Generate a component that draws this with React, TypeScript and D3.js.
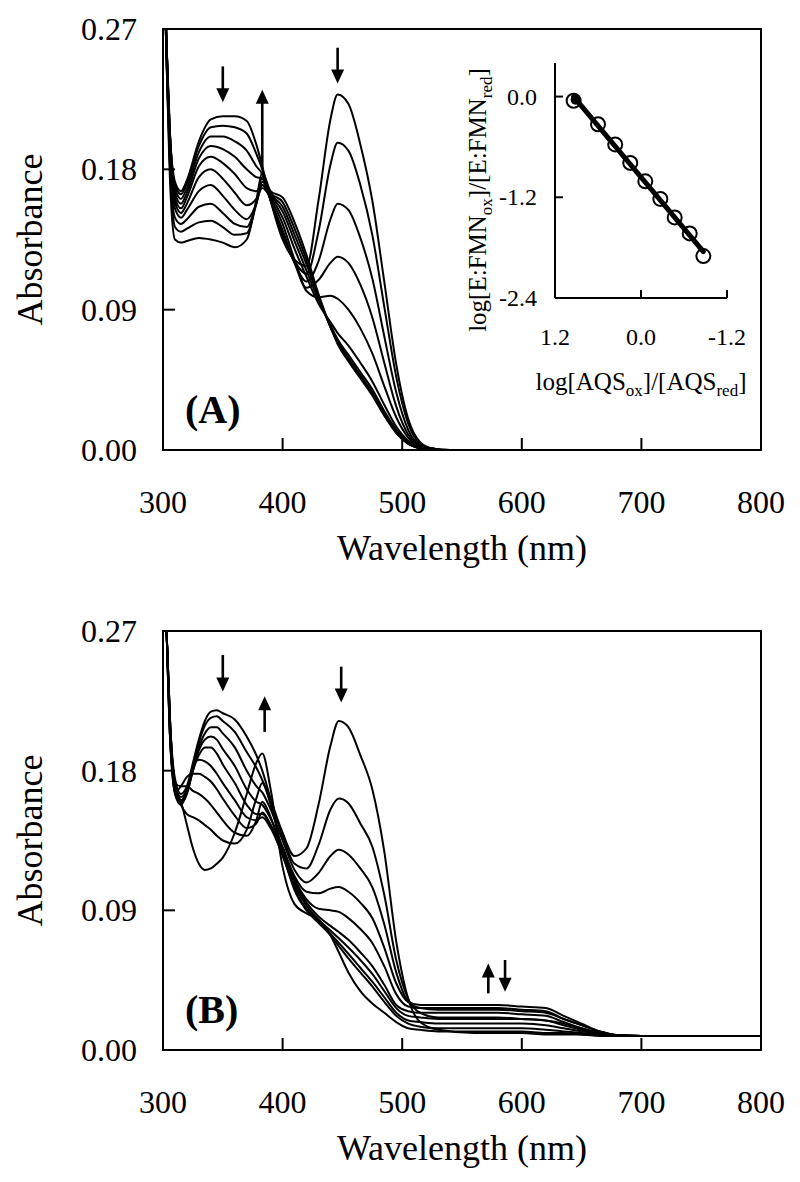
import React from 'react';
import * as d3 from 'd3';

// ---------- data ----------
const xTicks = [300, 400, 500, 600, 700, 800];
const yTicks = [0, 0.09, 0.18, 0.27];
const yTickLabels = ['0.00', '0.09', '0.18', '0.27'];

// Panel A spectra
const wlA = [300, 303, 306, 310, 315, 320, 330, 340, 350, 360, 370, 378, 383, 390, 400, 410, 420, 430, 440, 446, 455, 465, 475, 485, 495, 505, 515, 525, 540, 600, 700, 800];
const specA0 = [0.34, 0.26, 0.20, 0.172, 0.166, 0.173, 0.198, 0.212, 0.214, 0.214, 0.211, 0.196, 0.182, 0.160, 0.135, 0.122, 0.118, 0.160, 0.212, 0.228, 0.222, 0.196, 0.160, 0.108, 0.055, 0.020, 0.005, 0.001, 0, 0, 0, 0];
const specA1 = [0.34, 0.26, 0.20, 0.170, 0.164, 0.171, 0.195, 0.207, 0.208, 0.207, 0.203, 0.190, 0.180, 0.160, 0.137, 0.121, 0.113, 0.140, 0.183, 0.197, 0.192, 0.170, 0.138, 0.092, 0.047, 0.017, 0.004, 0.001, 0, 0, 0, 0];
const specA2 = [0.34, 0.26, 0.20, 0.168, 0.161, 0.168, 0.191, 0.201, 0.201, 0.198, 0.192, 0.182, 0.177, 0.160, 0.139, 0.120, 0.108, 0.121, 0.148, 0.158, 0.154, 0.136, 0.110, 0.073, 0.037, 0.013, 0.003, 0.001, 0, 0, 0, 0];
const specA3 = [0.34, 0.26, 0.20, 0.165, 0.158, 0.165, 0.187, 0.195, 0.193, 0.188, 0.180, 0.175, 0.174, 0.160, 0.141, 0.120, 0.104, 0.109, 0.120, 0.124, 0.120, 0.106, 0.085, 0.056, 0.028, 0.010, 0.003, 0.001, 0, 0, 0, 0];
const specA4 = [0.34, 0.26, 0.19, 0.162, 0.155, 0.162, 0.182, 0.188, 0.184, 0.177, 0.168, 0.166, 0.170, 0.161, 0.145, 0.122, 0.102, 0.098, 0.099, 0.097, 0.090, 0.078, 0.062, 0.041, 0.021, 0.008, 0.002, 0, 0, 0, 0, 0];
const specA5 = [0.34, 0.26, 0.19, 0.159, 0.152, 0.158, 0.175, 0.180, 0.174, 0.165, 0.157, 0.161, 0.168, 0.162, 0.149, 0.129, 0.111, 0.094, 0.082, 0.075, 0.067, 0.056, 0.044, 0.029, 0.015, 0.006, 0.002, 0, 0, 0, 0, 0];
const specA6 = [0.34, 0.25, 0.19, 0.155, 0.149, 0.154, 0.166, 0.170, 0.163, 0.154, 0.148, 0.158, 0.170, 0.163, 0.153, 0.134, 0.115, 0.096, 0.080, 0.071, 0.061, 0.050, 0.039, 0.025, 0.013, 0.005, 0.001, 0, 0, 0, 0, 0];
const specA7 = [0.34, 0.25, 0.18, 0.149, 0.145, 0.148, 0.156, 0.158, 0.152, 0.145, 0.143, 0.158, 0.172, 0.164, 0.156, 0.138, 0.119, 0.098, 0.079, 0.070, 0.059, 0.048, 0.037, 0.024, 0.012, 0.004, 0.001, 0, 0, 0, 0, 0];
const specA8 = [0.34, 0.25, 0.18, 0.143, 0.140, 0.142, 0.146, 0.147, 0.143, 0.138, 0.139, 0.158, 0.175, 0.165, 0.159, 0.142, 0.122, 0.099, 0.079, 0.069, 0.058, 0.047, 0.036, 0.023, 0.011, 0.004, 0.001, 0, 0, 0, 0, 0];
const specA9 = [0.34, 0.25, 0.17, 0.135, 0.133, 0.134, 0.136, 0.135, 0.133, 0.130, 0.135, 0.160, 0.178, 0.166, 0.162, 0.146, 0.125, 0.100, 0.079, 0.068, 0.057, 0.046, 0.035, 0.022, 0.011, 0.004, 0.001, 0, 0, 0, 0, 0];
const spectraA = [specA0, specA1, specA2, specA3, specA4, specA5, specA6, specA7, specA8, specA9];

// Panel B spectra
const wlB = [300, 303, 306, 310, 315, 320, 325, 330, 335, 340, 345, 350, 360, 370, 378, 383, 390, 400, 410, 420, 430, 440, 447, 455, 465, 475, 485, 495, 505, 515, 530, 560, 580, 600, 620, 635, 650, 665, 680, 700, 800];
const specB0 = [0.34, 0.27, 0.21, 0.175, 0.165, 0.170, 0.185, 0.200, 0.212, 0.218, 0.219, 0.217, 0.213, 0.202, 0.190, 0.180, 0.162, 0.140, 0.125, 0.130, 0.158, 0.196, 0.212, 0.208, 0.190, 0.168, 0.128, 0.070, 0.033, 0.018, 0.013, 0.011, 0.011, 0.011, 0.010, 0.010, 0.010, 0.009, 0.009, 0.009, 0.009];
const specB1 = [0.34, 0.27, 0.21, 0.172, 0.163, 0.168, 0.183, 0.198, 0.209, 0.214, 0.215, 0.212, 0.205, 0.192, 0.182, 0.174, 0.160, 0.138, 0.120, 0.117, 0.132, 0.155, 0.162, 0.159, 0.146, 0.131, 0.100, 0.058, 0.033, 0.024, 0.021, 0.021, 0.021, 0.020, 0.019, 0.017, 0.014, 0.011, 0.0095, 0.009, 0.009];
const specB2 = [0.34, 0.27, 0.21, 0.170, 0.161, 0.167, 0.181, 0.195, 0.204, 0.208, 0.208, 0.204, 0.195, 0.180, 0.170, 0.166, 0.155, 0.135, 0.116, 0.108, 0.114, 0.125, 0.129, 0.126, 0.117, 0.105, 0.081, 0.050, 0.031, 0.027, 0.026, 0.026, 0.026, 0.025, 0.024, 0.020, 0.016, 0.012, 0.0095, 0.009, 0.009];
const specB3 = [0.34, 0.27, 0.21, 0.168, 0.160, 0.166, 0.180, 0.193, 0.200, 0.202, 0.200, 0.194, 0.183, 0.168, 0.160, 0.158, 0.149, 0.131, 0.112, 0.102, 0.101, 0.104, 0.105, 0.102, 0.095, 0.085, 0.066, 0.043, 0.031, 0.029, 0.029, 0.029, 0.029, 0.028, 0.027, 0.022, 0.017, 0.012, 0.0095, 0.009, 0.009];
const specB4 = [0.34, 0.27, 0.205, 0.166, 0.159, 0.165, 0.180, 0.190, 0.195, 0.195, 0.191, 0.184, 0.172, 0.158, 0.152, 0.152, 0.145, 0.128, 0.110, 0.097, 0.091, 0.090, 0.089, 0.085, 0.078, 0.069, 0.054, 0.036, 0.028, 0.027, 0.027, 0.027, 0.027, 0.026, 0.025, 0.020, 0.016, 0.012, 0.0095, 0.009, 0.009];
const specB5 = [0.34, 0.27, 0.205, 0.165, 0.158, 0.166, 0.182, 0.187, 0.186, 0.183, 0.178, 0.172, 0.161, 0.150, 0.148, 0.150, 0.143, 0.126, 0.108, 0.095, 0.086, 0.080, 0.076, 0.071, 0.063, 0.054, 0.042, 0.029, 0.025, 0.024, 0.024, 0.024, 0.024, 0.023, 0.022, 0.018, 0.014, 0.011, 0.0095, 0.009, 0.009];
const specB6 = [0.34, 0.27, 0.20, 0.166, 0.170, 0.176, 0.178, 0.178, 0.176, 0.173, 0.168, 0.162, 0.151, 0.143, 0.146, 0.153, 0.145, 0.125, 0.106, 0.093, 0.084, 0.077, 0.072, 0.066, 0.058, 0.049, 0.038, 0.027, 0.022, 0.021, 0.020, 0.020, 0.020, 0.020, 0.019, 0.016, 0.013, 0.011, 0.0095, 0.009, 0.009];
const specB7 = [0.34, 0.27, 0.20, 0.172, 0.170, 0.170, 0.167, 0.165, 0.162, 0.158, 0.153, 0.148, 0.140, 0.138, 0.148, 0.160, 0.150, 0.126, 0.104, 0.091, 0.083, 0.075, 0.069, 0.062, 0.053, 0.044, 0.034, 0.024, 0.019, 0.018, 0.017, 0.017, 0.017, 0.017, 0.016, 0.014, 0.012, 0.0105, 0.0095, 0.009, 0.009];
const specB8 = [0.34, 0.27, 0.20, 0.170, 0.158, 0.152, 0.150, 0.148, 0.145, 0.142, 0.138, 0.135, 0.133, 0.142, 0.162, 0.172, 0.158, 0.128, 0.103, 0.090, 0.082, 0.074, 0.067, 0.059, 0.050, 0.041, 0.031, 0.022, 0.017, 0.015, 0.014, 0.014, 0.014, 0.014, 0.013, 0.012, 0.011, 0.010, 0.009, 0.009, 0.009];
const specB9 = [0.34, 0.27, 0.20, 0.168, 0.160, 0.145, 0.130, 0.120, 0.116, 0.117, 0.120, 0.124, 0.140, 0.165, 0.185, 0.191, 0.168, 0.118, 0.094, 0.088, 0.084, 0.074, 0.063, 0.050, 0.038, 0.030, 0.024, 0.018, 0.014, 0.013, 0.012, 0.012, 0.012, 0.012, 0.011, 0.011, 0.010, 0.0095, 0.009, 0.009, 0.009];
const spectraB = [specB0, specB1, specB2, specB3, specB4, specB5, specB6, specB7, specB8, specB9];

// arrows: wavelength, tail absorbance, tip absorbance
const arrowsA = [
  { wl: 350, tail: 0.246, tip: 0.223 },
  { wl: 383, tail: 0.180, tip: 0.231 },
  { wl: 446, tail: 0.258, tip: 0.235 },
];
const arrowsB = [
  { wl: 350, tail: 0.2545, tip: 0.231 },
  { wl: 385, tail: 0.205, tip: 0.228 },
  { wl: 449, tail: 0.247, tip: 0.224 },
  { wl: 572, tail: 0.0365, tip: 0.0558 },
  { wl: 586, tail: 0.058, tip: 0.0375 },
];

// inset (Nernst plot)
const insetX = [0.94, 0.60, 0.36, 0.15, -0.06, -0.27, -0.47, -0.68, -0.87];
const insetY = [-0.05, -0.33, -0.57, -0.79, -1.01, -1.22, -1.44, -1.63, -1.90];
const insetXTicks = [1.2, 0.0, -1.2];
const insetYTicks = [0.0, -1.2, -2.4];

// ---------- layout ----------
const FONT = '"Liberation Serif", "Times New Roman", Times, serif';
const LEFT = 163;
const RIGHT = 761;

type Arrow = { wl: number; tail: number; tip: number };

function ArrowMark({ x, yTail, yTip }: { x: number; yTail: number; yTip: number }) {
  const dir = Math.sign(yTip - yTail);
  const h = 14;
  const w = 6.5;
  const base = yTip - dir * h;
  return (
    <g>
      <line x1={x} x2={x} y1={yTail} y2={base + dir * 1} stroke="#000" strokeWidth={2.6} />
      <polygon points={`${x},${yTip} ${x - w},${base} ${x + w},${base}`} fill="#000" />
    </g>
  );
}

function Panel({ top, bottom, wl, spectra, arrows, tag, clipId }: {
  top: number; bottom: number; wl: number[]; spectra: number[][]; arrows: Arrow[]; tag: string; clipId: string;
}) {
  const x = d3.scaleLinear().domain([300, 800]).range([LEFT, RIGHT]);
  const y = d3.scaleLinear().domain([0, 0.27]).range([bottom, top]);
  const line = d3.line<number>()
    .x((_, i) => x(wl[i]))
    .y((d) => y(d))
    .curve(d3.curveMonotoneX);
  const midY = (top + bottom) / 2;
  return (
    <g>
      <defs>
        <clipPath id={clipId}>
          <rect x={LEFT} y={top} width={RIGHT - LEFT} height={bottom - top} />
        </clipPath>
      </defs>
      <g clipPath={`url(#${clipId})`}>
        {spectra.map((s, i) => (
          <path key={i} d={line(s) || ''} fill="none" stroke="#000" strokeWidth={2} strokeLinejoin="round" />
        ))}
      </g>
      <rect x={LEFT} y={top} width={RIGHT - LEFT} height={bottom - top} fill="none" stroke="#000" strokeWidth={2} />
      {yTicks.map((t, i) => (
        <g key={'yt' + i}>
          <line x1={LEFT} x2={LEFT + 12} y1={y(t)} y2={y(t)} stroke="#000" strokeWidth={2} />
          <text x={137} y={y(t) + 11} textAnchor="end" fontSize={32} fontFamily={FONT}>{yTickLabels[i]}</text>
        </g>
      ))}
      {xTicks.map((t, i) => (
        <g key={'xt' + i}>
          <line x1={x(t)} x2={x(t)} y1={bottom} y2={bottom - 12} stroke="#000" strokeWidth={2} />
          <text x={x(t)} y={bottom + 63} textAnchor="middle" fontSize={32} fontFamily={FONT}>{t}</text>
        </g>
      ))}
      <text x={(LEFT + RIGHT) / 2} y={bottom + 110} textAnchor="middle" fontSize={36} fontFamily={FONT}>Wavelength (nm)</text>
      <text transform={`translate(42, ${midY}) rotate(-90)`} textAnchor="middle" fontSize={36} fontFamily={FONT}>Absorbance</text>
      {arrows.map((a, i) => (
        <ArrowMark key={'ar' + i} x={x(a.wl)} yTail={y(a.tail)} yTip={y(a.tip)} />
      ))}
      <text x={185} y={bottom - 27} fontSize={40} fontWeight="bold" fontFamily={FONT}>{tag}</text>
    </g>
  );
}

function Inset() {
  const x = d3.scaleLinear().domain([1.2, -1.2]).range([555, 727]);
  const y = d3.scaleLinear().domain([-2.4, 0.4]).range([298, 63]);
  const mx = d3.mean(insetX) as number;
  const my = d3.mean(insetY) as number;
  const sxy = d3.sum(insetX.map((v, i) => (v - mx) * (insetY[i] - my)));
  const sxx = d3.sum(insetX.map((v) => (v - mx) * (v - mx)));
  const slope = sxy / sxx;
  const icpt = my - slope * mx;
  const x0 = d3.max(insetX) as number;
  const x1 = d3.min(insetX) as number;
  return (
    <g fontFamily={FONT}>
      <line x1={x(1.2)} x2={x(1.2)} y1={y(0.4)} y2={y(-2.4)} stroke="#000" strokeWidth={2} />
      <line x1={x(1.2)} x2={x(-1.2)} y1={y(-2.4)} y2={y(-2.4)} stroke="#000" strokeWidth={2} />
      {insetYTicks.map((t, i) => (
        <g key={'iy' + i}>
          <line x1={x(1.2)} x2={x(1.2) + 8} y1={y(t)} y2={y(t)} stroke="#000" strokeWidth={2} />
          <text x={537} y={y(t) + 8} textAnchor="end" fontSize={24}>{t.toFixed(1)}</text>
        </g>
      ))}
      {insetXTicks.map((t, i) => (
        <g key={'ix' + i}>
          <line x1={x(t)} x2={x(t)} y1={y(-2.4)} y2={y(-2.4) - 8} stroke="#000" strokeWidth={2} />
          <text x={x(t)} y={345} textAnchor="middle" fontSize={24}>{t.toFixed(1)}</text>
        </g>
      ))}
      {insetX.map((v, i) => (
        <circle key={'c' + i} cx={x(v)} cy={y(insetY[i])} r={7} fill="none" stroke="#000" strokeWidth={2} />
      ))}
      <line x1={x(x0)} y1={y(slope * x0 + icpt)} x2={x(x1)} y2={y(slope * x1 + icpt)} stroke="#000" strokeWidth={5} strokeLinecap="round" />
      <circle cx={x(insetX[0]) + 2} cy={y(insetY[0]) - 1} r={5} fill="#000" />
      <text x={641} y={390} textAnchor="middle" fontSize={25}>
        <tspan>log[AQS</tspan>
        <tspan fontSize={17} dy={6}>ox</tspan>
        <tspan dy={-6}>]/[AQS</tspan>
        <tspan fontSize={17} dy={6}>red</tspan>
        <tspan dy={-6}>]</tspan>
      </text>
      <text transform="translate(486, 200) rotate(-90)" textAnchor="middle" fontSize={25}>
        <tspan>log[E:FMN</tspan>
        <tspan fontSize={17} dy={6}>ox</tspan>
        <tspan dy={-6}>]/[E:FMN</tspan>
        <tspan fontSize={17} dy={6}>red</tspan>
        <tspan dy={-6}>]</tspan>
      </text>
    </g>
  );
}

export default function App() {
  return (
    <svg width={800} height={1182} viewBox="0 0 800 1182"
      style={{ position: 'absolute', left: 0, top: 0, background: '#fff' }}>
      <rect x={0} y={0} width={800} height={1182} fill="#fff" />
      <Panel top={29} bottom={450} wl={wlA} spectra={spectraA} arrows={arrowsA} tag="(A)" clipId="clipA" />
      <Inset />
      <Panel top={631} bottom={1050} wl={wlB} spectra={spectraB} arrows={arrowsB} tag="(B)" clipId="clipB" />
    </svg>
  );
}
